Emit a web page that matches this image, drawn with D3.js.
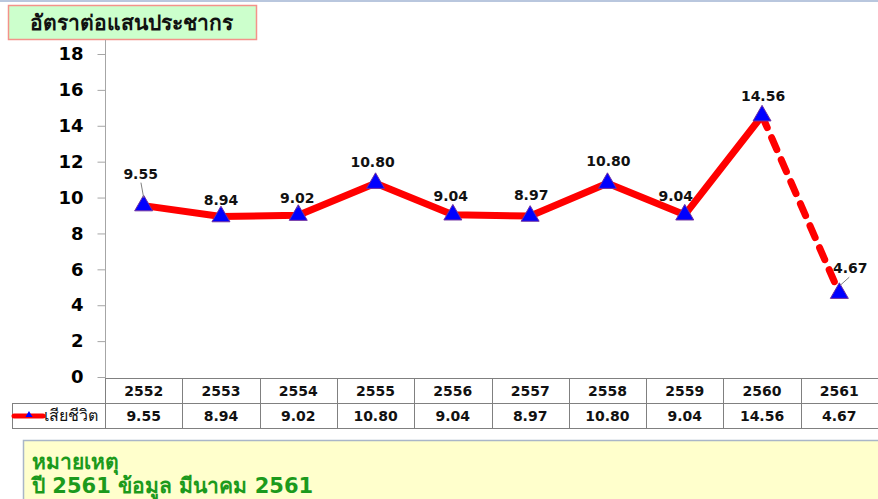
<!DOCTYPE html>
<html>
<head>
<meta charset="utf-8">
<script src="https://cdn.jsdelivr.net/npm/d3@7"></script>
<style>
  html, body { margin: 0; padding: 0; background: #ffffff; }
  svg { display: block; font-family: Tahoma, 'DejaVu Sans', sans-serif; }
</style>
</head>
<body>
<div id="chart"></div>
<script>
// Chart data
const years = ['2552', '2553', '2554', '2555', '2556', '2557', '2558', '2559', '2560', '2561'];
const deathRates = [9.55, 8.94, 9.02, 10.80, 9.04, 8.97, 10.80, 9.04, 14.56, 4.67];
const yTicks = [0, 2, 4, 6, 8, 10, 12, 14, 16, 18];
const seriesName = 'เสียชีวิต';
const titleText = 'อัตราต่อแสนประชากร';
const noteLines = ['หมายเหตุ', 'ปี 2561 ข้อมูล มีนาคม 2561'];

// Label nudges [dx, dy, leader] relative to each point
const labelNudge = [[-3, -27, true], [0, -12], [-1, -12, true], [-3, -16], [-2, -14],
    [1, -16], [1, -17], [-9, -14], [1, -15], [11, -20, true]];

const width = 878;
const height = 499;

const svg = d3.select('#chart')
    .append('svg')
    .attr('width', width)
    .attr('height', height);

// Thin strip along the top
svg.append('rect')
    .attr('x', 0).attr('y', 0)
    .attr('width', width).attr('height', 2)
    .attr('fill', '#b9c7de');

// Scales
const x = d3.scaleBand().domain(years).range([105, 878]);
const y = d3.scaleLinear().domain([0, 18]).range([377, 54]);
const cx = (d, i) => x(years[i]) + x.bandwidth() / 2;

// Title box
svg.append('rect')
    .attr('x', 8.5).attr('y', 5.5)
    .attr('width', 248).attr('height', 34)
    .attr('fill', '#ccffcc')
    .attr('stroke', '#f4928a')
    .attr('stroke-width', 1.5);
svg.append('text')
    .attr('x', 131).attr('y', 30)
    .attr('text-anchor', 'middle')
    .attr('font-size', 21)
    .attr('font-weight', 'bold')
    .attr('fill', '#111')
    .text(titleText);

// Y axis
const yAxis = d3.axisLeft(y).tickValues(yTicks).tickSize(8).tickPadding(14);
const yAxisGroup = svg.append('g')
    .attr('transform', 'translate(105.5,0)')
    .call(yAxis);
yAxisGroup.select('.domain').remove();
yAxisGroup.selectAll('.tick line').attr('stroke', '#a6a6a6');
yAxisGroup.selectAll('.tick text')
    .attr('font-size', 18)
    .attr('font-weight', 'bold')
    .attr('font-family', "Tahoma, 'DejaVu Sans', sans-serif")
    .attr('fill', '#000');
svg.append('line')
    .attr('x1', 105.5).attr('x2', 105.5)
    .attr('y1', 40).attr('y2', 378)
    .attr('stroke', '#a6a6a6');

// Line: solid up to 2560, dashed for the last segment
const line = d3.line()
    .x(d => x(d.year) + x.bandwidth() / 2)
    .y(d => y(d.value));
const points = years.map((yr, i) => ({ year: yr, value: deathRates[i] }));

svg.append('path')
    .datum(points.slice(0, 9))
    .attr('d', line)
    .attr('fill', 'none')
    .attr('stroke', '#ff0000')
    .attr('stroke-width', 7)
    .attr('stroke-linejoin', 'round');
svg.append('path')
    .datum(points.slice(8))
    .attr('d', line)
    .attr('fill', 'none')
    .attr('stroke', '#ff0000')
    .attr('stroke-width', 7)
    .attr('stroke-linecap', 'round')
    .attr('stroke-dasharray', '13,11');

// Markers
const tri = d3.symbol().type(d3.symbolTriangle).size(140);
svg.selectAll('.marker')
    .data(points)
    .enter()
    .append('path')
    .attr('class', 'marker')
    .attr('d', tri)
    .attr('transform', d => `translate(${x(d.year) + x.bandwidth() / 2},${y(d.value)})`)
    .attr('fill', '#0000ff')
    .attr('stroke', '#7030a0')
    .attr('stroke-width', 1);

// Leader lines for a few labels
points.forEach((d, i) => {
    const n = labelNudge[i];
    if (!n[2]) return;
    const px = cx(d, i);
    const py = y(d.value);
    svg.append('line')
        .attr('x1', px + n[0] * 0.9).attr('y1', py + n[1] + 4)
        .attr('x2', px + (n[0] > 5 ? 1 : 0)).attr('y2', py - 8)
        .attr('stroke', '#808080')
        .attr('stroke-width', 1);
});

// Data labels
svg.selectAll('.dlabel')
    .data(points)
    .enter()
    .append('text')
    .attr('class', 'dlabel')
    .attr('x', (d, i) => cx(d, i) + labelNudge[i][0])
    .attr('y', (d, i) => y(d.value) + labelNudge[i][1])
    .attr('text-anchor', 'middle')
    .attr('font-size', 14)
    .attr('font-weight', 'bold')
    .attr('fill', '#111')
    .text(d => d.value.toFixed(2));

// Data table below the chart
const rowTop = 378, rowMid = 403, rowBot = 428;
const grid = svg.append('g').attr('stroke', '#808080').attr('stroke-width', 1);
grid.append('line').attr('x1', 105).attr('x2', 878).attr('y1', rowTop + 0.5).attr('y2', rowTop + 0.5);
grid.append('line').attr('x1', 12).attr('x2', 878).attr('y1', rowMid + 0.5).attr('y2', rowMid + 0.5);
grid.append('line').attr('x1', 12).attr('x2', 878).attr('y1', rowBot + 0.5).attr('y2', rowBot + 0.5);
grid.append('line').attr('x1', 12.5).attr('x2', 12.5).attr('y1', rowMid).attr('y2', rowBot);
grid.selectAll('.vline')
    .data(years)
    .enter()
    .append('line')
    .attr('x1', d => Math.round(x(d)) + 0.5)
    .attr('x2', d => Math.round(x(d)) + 0.5)
    .attr('y1', rowTop)
    .attr('y2', rowBot);

svg.selectAll('.yearlabel')
    .data(years)
    .enter()
    .append('text')
    .attr('x', d => x(d) + x.bandwidth() / 2)
    .attr('y', rowTop + 18)
    .attr('text-anchor', 'middle')
    .attr('font-size', 14)
    .attr('font-weight', 'bold')
    .attr('fill', '#111')
    .text(d => d);

svg.selectAll('.vallabel')
    .data(points)
    .enter()
    .append('text')
    .attr('x', d => x(d.year) + x.bandwidth() / 2)
    .attr('y', rowMid + 18)
    .attr('text-anchor', 'middle')
    .attr('font-size', 14)
    .attr('font-weight', 'bold')
    .attr('fill', '#111')
    .text(d => d.value.toFixed(2));

// Legend key inside the table
svg.append('line')
    .attr('x1', 14).attr('x2', 43)
    .attr('y1', 416).attr('y2', 416)
    .attr('stroke', '#ff0000')
    .attr('stroke-width', 5)
    .attr('stroke-linecap', 'round');
svg.append('path')
    .attr('d', d3.symbol().type(d3.symbolTriangle).size(22))
    .attr('transform', 'translate(29,415)')
    .attr('fill', '#0000ff');
svg.append('text')
    .attr('x', 44).attr('y', 421)
    .attr('font-size', 16)
    .attr('fill', '#111')
    .text(seriesName);

// Note box
svg.append('rect')
    .attr('x', 23.5).attr('y', 440.5)
    .attr('width', 870).attr('height', 70)
    .attr('fill', '#ffffcc')
    .attr('stroke', '#a9b6c8')
    .attr('stroke-width', 1.5);
svg.selectAll('.note')
    .data(noteLines)
    .enter()
    .append('text')
    .attr('x', 32)
    .attr('y', (d, i) => 469 + i * 24)
    .attr('font-size', 21)
    .attr('font-weight', 'bold')
    .attr('fill', '#1c9a1c')
    .text(d => d);
</script>
</body>
</html>
